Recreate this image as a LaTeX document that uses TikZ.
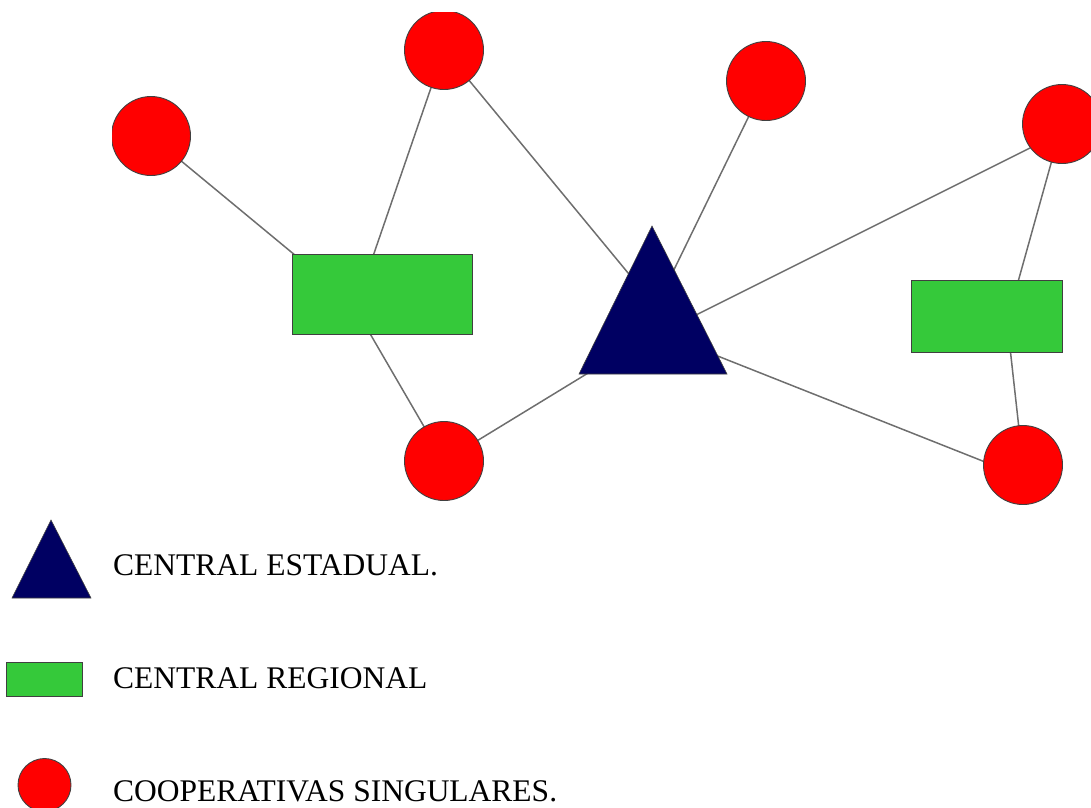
\documentclass[tikz,border=0pt]{standalone}
\usepackage{fontspec}
\setmainfont{Liberation Serif}
\usetikzlibrary{calc,backgrounds}
\definecolor{coopred}{RGB}{255,0,0}
\definecolor{regreen}{RGB}{53,201,58}
\definecolor{estnavy}{RGB}{0,0,98}
\definecolor{edgegray}{RGB}{110,110,110}
\tikzset{
  coop/.style={circle,draw=black!75,line width=0.9pt,fill=coopred,minimum size=79pt,inner sep=0pt},
  regional/.style={rectangle,draw=black!75,line width=0.9pt,fill=regreen,inner sep=0pt},
  estadual/.style={draw=black!75,line width=0.6pt,fill=estnavy},
  link/.style={draw=edgegray,line width=1.5pt},
  legtext/.style={anchor=base west,inner sep=0pt,font=\fontsize{31.5}{34}\selectfont}
}
\begin{document}
\begin{tikzpicture}[x=1pt,y=-1pt]
\useasboundingbox (0,0) rectangle (1091,807);
% graph
\begin{scope}
  \clip (112,12) rectangle (1091,505);
  \node[coop] (c1) at (151,136) {};
  \node[coop] (c2) at (444,50) {};
  \node[coop] (c3) at (766,81) {};
  \node[coop] (c4) at (1062,124) {};
  \node[coop] (c5) at (444,461) {};
  \node[coop] (c6) at (1023,465) {};
  \node[regional,minimum width=180pt,minimum height=80pt] (r1) at (382,294) {};
  \node[regional,minimum width=151pt,minimum height=72pt] (r2) at (986.5,316) {};
  \draw[estadual] (652,226) -- (727,374) -- (579,374) -- cycle;
  \coordinate (tri) at (652,330);
\end{scope}
\begin{pgfonlayer}{background}
  \draw[link] (c1.center) -- ($(r1.center)+(-40,0)$);
  \draw[link] (c2.center) -- ($(r1.center)+(-22,0)$);
  \draw[link] ($(r1.center)+(-35,0)$) -- (c5.center);
  \draw[link] (c2.center) -- ($(tri)+(19,-5)$);
  \draw[link] (c3.center) -- ($(tri)+(-5,-5)$);
  \draw[link] ($(c4.center)+(0,8)$) -- ($(tri)+(0,7)$);
  \draw[link] ($(tri)+(0,4)$) -- (c5.center);
  \draw[link] (tri) -- ($(c6.center)+(0,12)$);
  \draw[link] (c4.center) -- ($(r2.center)+(22,0)$);
  \draw[link] ($(r2.center)+(20,0)$) -- (c6.center);
\end{pgfonlayer}
% legend
\begin{scope}
  \clip (0,0) rectangle (1091,807);
  \draw[estadual] (51,520) -- (91,598) -- (12,598) -- cycle;
  \coordinate (legtri) at (51,575);
  \node[regional,minimum width=76pt,minimum height=34pt] (legrect) at (44,679) {};
  \node[coop,minimum size=53pt] (legcirc) at (44.5,785) {};
\end{scope}
\node[legtext] (t1) at (113,575) {CENTRAL ESTADUAL.};
\node[legtext] (t2) at (113,688) {CENTRAL REGIONAL};
\node[legtext] (t3) at (113,801) {COOPERATIVAS SINGULARES.};
\end{tikzpicture}
\end{document}
